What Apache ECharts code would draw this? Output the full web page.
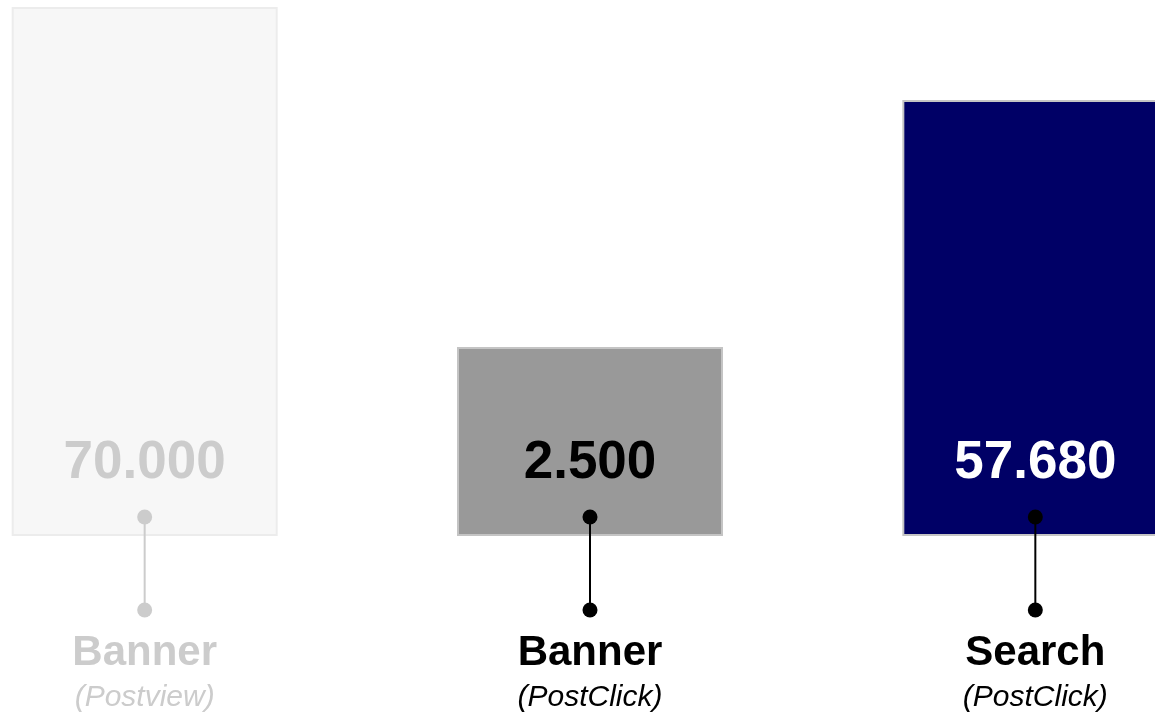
<!DOCTYPE html>
<html>
<head>
<meta charset="utf-8">
<script src="https://cdn.jsdelivr.net/npm/echarts@6/dist/echarts.min.js"></script>
<style>
  html, body { margin: 0; padding: 0; background: #ffffff; }
  #chart { width: 1155px; height: 712px; }
</style>
</head>
<body>
<div id="chart"></div>
<script>
// Channel names, their attribution type and the conversions per channel
const channels = ['Banner', 'Banner', 'Search'];
const attribution = ['(Postview)', '(PostClick)', '(PostClick)'];
const conversions = [70000, 2500, 57680];

// Per-bar styling: muted first bar, grey and navy for the click-based ones
const barFill = ['#f7f7f7', '#999999', '#000066'];
const barEdge = ['#ececec', '#c4c4c4', '#c4c4c4'];
const valueColor = ['#cccccc', '#000000', '#ffffff'];
const connectorColor = ['#cccccc', '#000000', '#000000'];
const nameStyle = ['muted', 'dark', 'dark'];

const FONT = '"Liberation Sans", Arial, sans-serif';

// German style thousands separator: 70000 -> 70.000
function formatDe(v) {
  return String(Math.round(v)).replace(/\B(?=(\d{3})+(?!\d))/g, '.');
}

const chart = echarts.init(document.getElementById('chart'), null, { renderer: 'canvas' });

const option = {
  backgroundColor: '#ffffff',
  animation: false,
  grid: {
    left: -78, right: -103, top: 7, bottom: 176,
    containLabel: false,
    outerBoundsMode: 'none'
  },
  xAxis: {
    type: 'category',
    data: channels,
    axisLine: { show: false },
    axisTick: { show: false },
    splitLine: { show: false },
    axisLabel: {
      interval: 0,
      margin: 94,
      formatter: function (value, index) {
        const s = nameStyle[index];
        return '{' + s + 'Name|' + value + '}\n{' + s + 'Sub|' + attribution[index] + '}';
      },
      rich: {
        mutedName: { fontFamily: FONT, fontWeight: 'bold', fontSize: 42, color: '#cccccc', lineHeight: 46 },
        darkName:  { fontFamily: FONT, fontWeight: 'bold', fontSize: 42, color: '#000000', lineHeight: 46 },
        mutedSub:  { fontFamily: FONT, fontStyle: 'italic', fontSize: 30, color: '#cccccc', lineHeight: 43 },
        darkSub:   { fontFamily: FONT, fontStyle: 'italic', fontSize: 30, color: '#000000', lineHeight: 43 }
      }
    }
  },
  yAxis: {
    type: 'value',
    min: 0,
    max: 70000,
    show: false,
    splitLine: { show: false }
  },
  series: [
    {
      type: 'bar',
      barWidth: 266,
      barMinHeight: 189,
      z: 2,
      data: conversions.map(function (v, i) {
        return {
          value: v,
          itemStyle: { color: barFill[i], borderColor: barEdge[i], borderWidth: 2 },
          label: { color: valueColor[i] }
        };
      }),
      label: {
        show: true,
        position: 'insideBottom',
        distance: 46,
        fontFamily: FONT,
        fontWeight: 'bold',
        fontSize: 53,
        formatter: function (p) { return formatDe(p.value); }
      }
    },
    {
      // Pin connectors: dot inside the bar, stem down to a dot above the channel name
      type: 'custom',
      z: 5,
      silent: true,
      data: channels.map(function (c, i) { return [i, 0]; }),
      renderItem: function (params, api) {
        const i = params.dataIndex;
        const base = api.coord([api.value(0), api.value(1)]);
        const x = base[0];
        const yTop = base[1] - 19;
        const yBottom = base[1] + 74;
        const col = connectorColor[i];
        return {
          type: 'group',
          children: [
            { type: 'line', shape: { x1: x, y1: yTop, x2: x, y2: yBottom }, style: { stroke: col, lineWidth: 2 } },
            { type: 'circle', shape: { cx: x, cy: yTop, r: 7.5 }, style: { fill: col } },
            { type: 'circle', shape: { cx: x, cy: yBottom, r: 7.5 }, style: { fill: col } }
          ]
        };
      }
    }
  ]
};

chart.setOption(option);
</script>
</body>
</html>
